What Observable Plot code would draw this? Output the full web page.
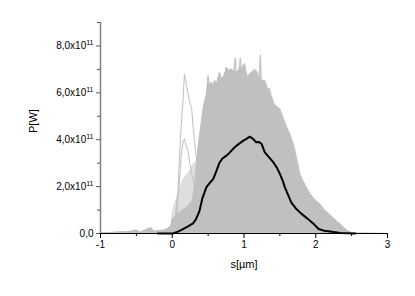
<!DOCTYPE html>
<html><head><meta charset="utf-8">
<script src="https://cdn.jsdelivr.net/npm/d3@7"></script>
<script src="https://cdn.jsdelivr.net/npm/@observablehq/plot@0.6"></script>
<style>body{margin:0;background:#fff;} svg{display:block;}</style>
</head><body><div id="chart"></div>
<script>
// values in units of 1e11 W, s in µm
const envX = [-1.0,-0.8,-0.6,-0.5,-0.45,-0.3,-0.25,-0.1,-0.02,0.0,0.1,0.2,0.28,0.31,0.34,0.37,0.40,0.43,0.45,0.48,0.50,0.52,0.545,0.57,0.59,0.62,0.66,0.69,0.71,0.74,0.755,0.79,0.825,0.86,0.88,0.89,0.91,0.94,0.95,0.965,0.99,1.01,1.03,1.05,1.08,1.11,1.15,1.19,1.21,1.23,1.24,1.25,1.29,1.33,1.36,1.38,1.42,1.46,1.50,1.55,1.60,1.64,1.70,1.74,1.78,1.83,1.87,1.92,1.97,2.02,2.06,2.12,2.18,2.24,2.30,2.35,2.39,2.45,2.52,3.0];
const envY = [0.02,0.05,0.08,0.15,0.05,0.25,0.1,0.15,0.3,0.6,0.9,1.1,1.4,2.0,3.1,3.9,4.6,5.3,5.6,6.0,6.74,6.3,6.45,6.3,6.53,6.4,6.88,6.6,6.67,6.9,7.09,6.95,7.02,6.88,7.48,6.9,6.88,7.1,7.48,7.0,7.17,7.24,6.9,6.67,6.81,6.88,7.0,6.88,6.53,7.62,6.6,6.53,6.53,6.17,6.17,5.88,5.53,5.4,5.32,4.9,4.5,4.25,3.7,3.1,2.54,2.2,1.97,1.7,1.5,1.35,1.26,1.0,0.85,0.68,0.5,0.38,0.26,0.1,0.02,0];

// thin traces left of the main bunch
const faintX = [-0.02,0.0,0.05,0.1,0.15,0.2,0.25,0.3,0.34];
const faintY = [0.2,0.9,1.4,1.9,2.3,2.5,2.7,3.0,3.1];

const spike1X = [-0.02,0.04,0.08,0.10,0.126,0.15,0.17,0.19,0.22,0.25,0.27,0.29,0.31,0.33];
const spike1Y = [0.1,0.6,1.8,3.25,4.67,5.67,6.81,6.5,5.96,5.5,5.38,4.53,3.96,3.3];
const spike2X = [0.0,0.06,0.10,0.126,0.15,0.17,0.19,0.22,0.25,0.28,0.31];
const spike2Y = [0.1,0.8,2.2,3.39,3.9,4.03,3.8,3.53,2.9,2.4,2.0];

const meanX = [-0.2,0.01,0.08,0.15,0.22,0.29,0.33,0.38,0.42,0.475,0.52,0.57,0.62,0.66,0.70,0.755,0.80,0.87,0.92,0.99,1.04,1.08,1.12,1.17,1.21,1.245,1.29,1.35,1.41,1.46,1.50,1.54,1.57,1.62,1.66,1.72,1.78,1.85,1.92,1.98,2.04,2.12,2.20,2.34,2.55];
const meanY = [0,0,0.08,0.19,0.3,0.43,0.6,0.97,1.5,1.97,2.15,2.32,2.7,3.03,3.2,3.32,3.45,3.68,3.8,3.96,4.05,4.13,4.05,3.89,3.9,3.82,3.46,3.25,3.03,2.8,2.54,2.25,1.97,1.6,1.32,1.08,0.90,0.72,0.54,0.38,0.19,0.12,0.09,0.02,0];

const yMajor = [0,2,4,6,8];
const yMinor = [1,3,5,7,9];
const xMajor = [-1,0,1,2,3];
const xMinor = [-0.5,0.5,1.5,2.5];

const zip = (xs, ys) => xs.map((x, i) => ({x, y: ys[i]}));
const env = zip(envX, envY), faint = zip(faintX, faintY), s1 = zip(spike1X, spike1Y), s2 = zip(spike2X, spike2Y), mean = zip(meanX, meanY);
const fmt = d => d === 0 ? "0,0" : d.toFixed(1).replace(".", ",") + "x10^11";
const gray = "#c0c0c0";

const chart = Plot.plot({
  width: 415, height: 296,
  marginLeft: 100, marginRight: 28, marginTop: 22, marginBottom: 63,
  style: {fontFamily: "'Liberation Sans', Arial, sans-serif", fontSize: "10px", background: "#fff", color: "#000"},
  x: {domain: [-1, 3]},
  y: {domain: [0, 9]},
  marks: [
    Plot.areaY(faint, {x: "x", y: "y", fill: "#dedede"}),
    Plot.areaY(env, {x: "x", y: "y", fill: gray}),
    Plot.line(env, {x: "x", y: "y", stroke: gray, strokeWidth: 1}),
    Plot.line(s1, {x: "x", y: "y", stroke: gray, strokeWidth: 1}),
    Plot.line(s2, {x: "x", y: "y", stroke: gray, strokeWidth: 1}),
    Plot.line(mean, {x: "x", y: "y", stroke: "#000", strokeWidth: 2}),
    Plot.ruleX([-1], {y1: 0, y2: 9, stroke: "#808080", strokeWidth: 1.5}),
    Plot.ruleY([0], {x1: -1, x2: 3, stroke: "#000", strokeWidth: 1}),
    Plot.axisY(yMajor, {tickSize: 4, tickPadding: 3, tickFormat: fmt, label: null, stroke: "#555"}),
    Plot.axisY(yMinor, {tickSize: 3, tickFormat: () => "", label: null, stroke: "#555"}),
    Plot.axisX(xMajor, {tickSize: 5, tickPadding: 2, tickFormat: d => d === -1 ? "-1" : String(d), label: null}),
    Plot.axisX(xMinor, {tickSize: 3, tickFormat: () => "", label: null}),
    Plot.text(["P[W]"], {frameAnchor: "left", dx: -67, dy: 5, rotate: -90, fontSize: 11}),
    Plot.text(["s[µm]"], {frameAnchor: "bottom", dy: 34, fontSize: 11})
  ]
});
// render "x10^11" with a raised superscript
chart.querySelectorAll("text").forEach(t => {
  const s = t.textContent;
  if (s.includes("^")) {
    const [base, exp] = s.split("^");
    t.textContent = "";
    const a = document.createElementNS("http://www.w3.org/2000/svg", "tspan");
    a.textContent = base;
    const b = document.createElementNS("http://www.w3.org/2000/svg", "tspan");
    b.textContent = exp;
    b.setAttribute("dy", "-4");
    b.setAttribute("font-size", "7");
    t.append(a, b);
  }
});
document.getElementById("chart").append(chart);
</script>
</body></html>
